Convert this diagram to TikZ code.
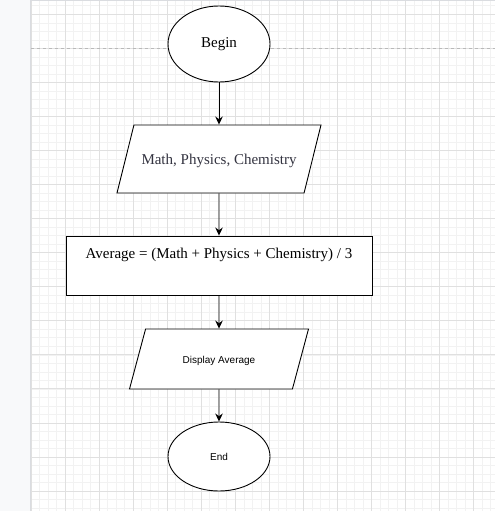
\documentclass[tikz,border=0pt]{standalone}
\usepackage{fontspec}
\setmainfont{Liberation Serif}
\newfontfamily\helv{Liberation Sans}
\usepackage{tikz}
\usetikzlibrary{arrows.meta, shapes.geometric}
\definecolor{gridminor}{HTML}{F2F2F2}
\definecolor{gridmajor}{HTML}{E0E0E0}
\definecolor{sidebar}{HTML}{F8F9FA}
\definecolor{sideline}{HTML}{DADCE0}
\definecolor{inktext}{HTML}{333340}

\begin{document}
\begin{tikzpicture}[x=1pt, y=-1pt]
\tikzstyle{terminal}=[ellipse, draw, fill=white, line width=0.9pt, minimum width=102pt, inner sep=0pt]
\tikzstyle{io}=[trapezium, trapezium stretches body, draw, fill=white, line width=0.9pt, inner xsep=0pt]
\tikzstyle{process}=[rectangle, draw, fill=white, line width=0.9pt, inner sep=0pt]
\tikzstyle{flow}=[-{Stealth[length=8pt, width=7.5pt]}, line width=0.9pt]

\useasboundingbox (0,0) rectangle (495,511);
\fill[white] (0,0) rectangle (495,511);
\fill[sidebar] (0,0) rectangle (30,511);
\foreach \i in {0,...,54}
   \draw[gridminor, line width=0.6pt] ({31+8.5125*\i},0) -- ({31+8.5125*\i},511);
\foreach \j in {-1,...,58}
   \draw[gridminor, line width=0.6pt] (31,{14.3+8.5125*\j}) -- (495,{14.3+8.5125*\j});
\foreach \k in {0,...,13}
   \draw[gridmajor, line width=0.8pt] ({31+34.05*\k},0) -- ({31+34.05*\k},511);
\foreach \k in {0,...,14}
   \draw[gridmajor, line width=0.8pt] (31,{14.3+34.05*\k}) -- (495,{14.3+34.05*\k});
\draw[sideline, line width=1.2pt] (30.5,0) -- (30.5,511);
\draw[sideline] (30,0.5) -- (495,0.5);
\draw[gray!55, dash pattern=on 3pt off 3pt, line width=0.7pt] (31,48.5) -- (495,48.5);

\node[terminal, minimum height=76pt, text height=11pt, text depth=3pt] (start) at (219,44) {\fontsize{15}{18}\selectfont Begin};
\node[io, trapezium left angle=76, trapezium right angle=104, minimum width=204pt, text height=12pt, text depth=2pt, inner ysep=27pt, text=inktext] (marks) at (219,159) {\fontsize{15}{18}\selectfont Math, Physics, Chemistry};
\node[process, minimum width=306pt, minimum height=59pt, text height=11pt, text depth=26pt] (avg) at (219,265.5) {\fontsize{15}{18}\selectfont Average = (Math + Physics + Chemistry) / 3};
\node[io, trapezium left angle=75, trapezium right angle=105, minimum width=179pt, text height=9pt, text depth=0pt, inner ysep=25.5pt] (show) at (219,359) {\helv\fontsize{10}{12}\selectfont Display Average};
\node[terminal, minimum height=69pt] (stop) at (219,456.5) {\helv\fontsize{10}{12}\selectfont End};

\draw[flow] (start)--(marks);
\draw[flow] (marks)--(avg);
\draw[flow] (avg)--(show);
\draw[flow] (show)--(stop);
\end{tikzpicture}
\end{document}
